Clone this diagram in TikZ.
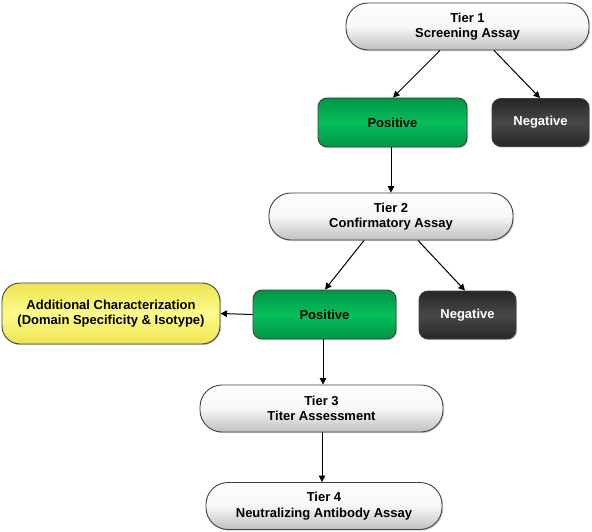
\documentclass[tikz,border=0pt]{standalone}
\usepackage{fontspec}
\setmainfont{Liberation Sans}
\usetikzlibrary{shadows,arrows.meta}
\definecolor{gmid}{RGB}{8,190,90}
\definecolor{gedge}{RGB}{0,150,70}
\definecolor{ymid}{RGB}{252,250,140}
\definecolor{yedge}{RGB}{238,228,80}
\begin{document}
\begin{tikzpicture}[x=1pt,y=-1pt,
  base/.style={draw=black!75, line width=0.9pt, font=\bfseries\fontsize{13}{15.5}\selectfont, align=center, inner sep=0pt,
    drop shadow={shadow xshift=1.2pt, shadow yshift=-1.2pt, opacity=0.35}},
  tierbox/.style={base, minimum height=47pt, rounded corners=22pt, top color=white, bottom color=black!25, middle color=black!3},
  posbox/.style={base, minimum height=49pt, rounded corners=9pt, top color=gedge, bottom color=gedge, middle color=gmid},
  negbox/.style={base, minimum height=48pt, minimum width=97pt, rounded corners=9pt, text=white, top color=black!85, bottom color=black!85, middle color=black!72},
  addbox/.style={base, minimum height=61pt, minimum width=218pt, rounded corners=18pt, top color=yedge, bottom color=yedge, middle color=ymid},
  arr/.style={-{Triangle[length=6.5pt,width=6.5pt]}, line width=1pt, black}]
\useasboundingbox (0,0) rectangle (592,532);
\node[tierbox, minimum width=243pt] (t1) at (467.5,26.5) {Tier 1\\Screening Assay};
\node[posbox, minimum width=149pt] (p1) at (392.5,122.5) {Positive};
\node[negbox] (n1) at (540.5,122.5) {Negative};
\node[tierbox, minimum width=244pt] (t2) at (391,216.5) {Tier 2\\Confirmatory Assay};
\node[posbox, minimum width=143pt] (p2) at (324.5,314.5) {Positive};
\node[negbox] (n2) at (467.5,315) {Negative};
\node[addbox] (a) at (111,313.5) {Additional Characterization\\(Domain Specificity \& Isotype)};
\node[tierbox, minimum width=243pt] (t3) at (321.5,408.5) {Tier 3\\Titer Assessment};
\node[tierbox, minimum width=236pt] (t4) at (324,506) {Tier 4\\Neutralizing Antibody Assay};
\draw[arr] (t1.south -| 440,0) -- (p1.north -| 393,0);
\draw[arr] (t1.south -| 494,0) -- (n1.north -| 540,0);
\draw[arr] (p1.south -| 391,0) -- (t2.north -| 391,0);
\draw[arr] (t2.south -| 364,0) -- (p2.north -| 325,0);
\draw[arr] (t2.south -| 418,0) -- (n2.north -| 465,0);
\draw[arr] (p2.west) -- (a.east);
\draw[arr] (p2.south -| 323,0) -- (t3.north -| 323,0);
\draw[arr] (t3.south -| 322,0) -- (t4.north -| 322,0);
\end{tikzpicture}
\end{document}
